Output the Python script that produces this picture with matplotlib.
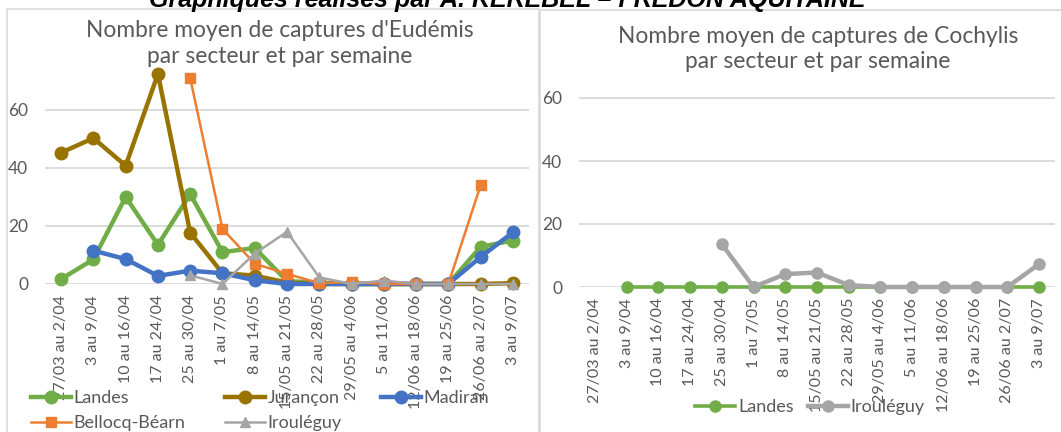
import matplotlib
matplotlib.use("Agg")
import matplotlib.pyplot as plt
import numpy as np
from matplotlib.patches import Rectangle

plt.rcParams.update({"font.family": ["Lato", "DejaVu Sans"]})

nan = np.nan
WEEKS = ["27/03 au 2/04", "3 au 9/04", "10 au 16/04", "17 au 24/04", "25 au 30/04",
         "1 au 7/05", "8 au 14/05", "15/05 au 21/05", "22 au 28/05", "29/05 au 4/06",
         "5 au 11/06", "12/06 au 18/06", "19 au 25/06", "26/06 au 2/07", "3 au 9/07"]

# Eudémis
eu_landes = [1.7, 8.5, 30, 13.5, 31, 11, 12.4, 1, 0.5, 0, 0, 0, 0, 12.8, 15]
eu_jurancon = [45.3, 50.3, 40.8, 72.4, 17.7, 3.7, 2.9, 0.5, 0, 0, 0, 0, 0, 0, 0.3]
eu_madiran = [nan, 11.5, 8.6, 2.8, 4.6, 3.7, 1.3, 0, 0, 0, 0, 0, 0, 9.3, 17.8]
eu_bellocq = [nan, nan, nan, nan, 71, 19, 7, 3.5, 0.3, 0.7, 0, 0, 0, 34, nan]
eu_iroul = [nan, nan, nan, nan, 3, 0, 10.5, 18, 2.3, 0, 1.2, 0, 0, 0, 0]

# Cochylis
co_landes = [nan, 0, 0, 0, 0, 0, 0, 0, 0, 0, 0, 0, 0, 0, 0]
co_iroul = [nan, nan, nan, nan, 13.6, 0, 4.1, 4.6, 0.6, 0, 0, 0, 0, 0, 7.3]

GREEN, BROWN, BLUE, ORANGE, GRAY = "#70AD47", "#997300", "#4472C4", "#ED7D31", "#A5A5A5"
TXT = "#595959"
GRID = "#D9D9D9"

W, H = 1061, 432
fig = plt.figure(figsize=(W / 100, H / 100), dpi=100)


def px_axes(x0, x1, y0_px, ppu, ymax):
    # y0_px: pixel row of value 0, ppu: pixels per unit
    top = y0_px - ymax * ppu
    return fig.add_axes([x0 / W, 1 - y0_px / H, (x1 - x0) / W, (y0_px - top) / H])


# frames
fig.patches.append(Rectangle((7 / W, -0.05), 532 / W, 1.05 - 9 / H, transform=fig.transFigure,
                             fill=False, edgecolor=GRID, lw=1.2))
fig.patches.append(Rectangle((540 / W, -0.05), 540 / W, 1.05 - 10 / H, transform=fig.transFigure,
                             fill=False, edgecolor=GRID, lw=1.2))

fig.text(507 / W, 1 - 7 / H, "Graphiques réalisés par A. KEREBEL \u2013 FREDON AQUITAINE",
         ha="center", va="baseline", fontsize=18, fontweight="bold", fontstyle="italic",
         family="Liberation Sans", color="black")

x = np.arange(len(WEEKS))


def style(ax, ymax):
    ax.set_xlim(-0.5, len(WEEKS) - 0.5)
    ax.set_ylim(0, ymax)
    ax.set_yticks([0, 20, 40, 60])
    ax.yaxis.grid(True, color=GRID, lw=1.3)
    ax.set_axisbelow(True)
    for s in ax.spines.values():
        s.set_visible(False)
    ax.tick_params(length=0, labelsize=12.5, labelcolor=TXT)
    ax.tick_params(axis="y", pad=12)
    ax.set_xticks(x)
    ax.set_xticklabels(WEEKS, rotation=90, fontsize=11.5, color=TXT)
    ax.tick_params(axis="x", pad=8)
    ax.patch.set_alpha(0)


# ---------- Eudémis ----------
ax1 = px_axes(45, 529, 284, 2.9, 76)
style(ax1, 76)
l_la, = ax1.plot(x, eu_landes, color=GREEN, lw=3.2, marker="o", ms=9, label="Landes", clip_on=False)
l_ju, = ax1.plot(x, eu_jurancon, color=BROWN, lw=3.2, marker="o", ms=9, label="Jurançon", clip_on=False)
l_ma, = ax1.plot(x, eu_madiran, color=BLUE, lw=3.2, marker="o", ms=9, label="Madiran", clip_on=False)
l_be, = ax1.plot(x, eu_bellocq, color=ORANGE, lw=1.8, marker="s", ms=6.5, label="Bellocq-Béarn", clip_on=False)
l_ir, = ax1.plot(x, eu_iroul, color=GRAY, lw=1.8, marker="^", ms=7.5, label="Irouléguy", clip_on=False)
fig.text(280 / W, 1 - 43.5 / H, "Nombre moyen de captures d'Eudémis\npar secteur et par semaine",
         ha="center", va="center", fontsize=16.4, color=TXT, linespacing=1.25)
# column-major fill -> order handles so rows read Landes/Jurançon/Madiran, Bellocq/Irouléguy
hs = [l_la, l_be, l_ju, l_ir, l_ma]
leg1 = ax1.legend(hs, [h.get_label() for h in hs], loc="upper left",
                  bbox_to_anchor=(22 / W, 1 - 381 / H), bbox_transform=fig.transFigure,
                  ncol=3, frameon=False, fontsize=13, handlelength=2.2, handletextpad=0.15,
                  columnspacing=2.2, labelspacing=0.5, borderpad=0)
for t in leg1.get_texts():
    t.set_color(TXT)

# ---------- Cochylis ----------
ax2 = px_axes(579, 1055, 287, 3.15, 66)
style(ax2, 66)
ax2.plot(x, co_landes, color=GREEN, lw=2.6, marker="o", ms=8, label="Landes", clip_on=False)
ax2.plot(x, co_iroul, color=GRAY, lw=3.2, marker="o", ms=8, label="Irouléguy", clip_on=False)
fig.text(818 / W, 1 - 49 / H, "Nombre moyen de captures de Cochylis\npar secteur et par semaine",
         ha="center", va="center", fontsize=16.4, color=TXT, linespacing=1.25)
leg2 = ax2.legend(loc="center", bbox_to_anchor=(810 / W, 1 - 407 / H), bbox_transform=fig.transFigure,
                  ncol=2, frameon=False, fontsize=13, handlelength=2.2, handletextpad=0.15,
                  columnspacing=0.8, borderpad=0)
for t in leg2.get_texts():
    t.set_color(TXT)

fig.savefig("out.png", dpi=100)
